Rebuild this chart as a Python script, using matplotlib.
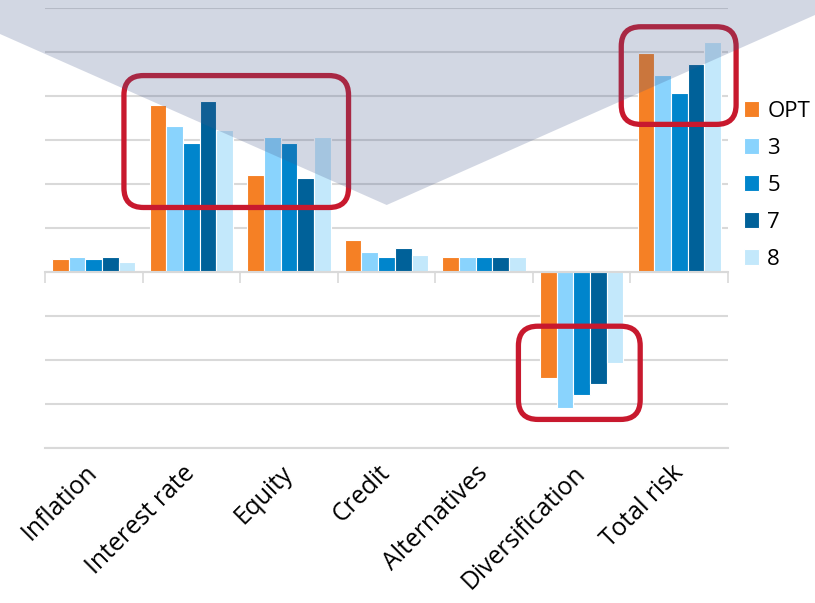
import numpy as np
import matplotlib
matplotlib.use("Agg")
import matplotlib.pyplot as plt
from matplotlib.patches import Polygon, FancyBboxPatch
from matplotlib.transforms import ScaledTranslation

plt.rcParams['font.family'] = ['Open Sans', 'DejaVu Sans']

categories = ["Inflation", "Interest rate", "Equity", "Credit",
              "Alternatives", "Diversification", "Total risk"]
series_names = ["OPT", "3", "5", "7", "8"]
opt_vals = [0.29, 3.80, 2.20, 0.74, 0.34, -2.41, 4.98]
s3_vals = [0.34, 3.33, 3.08, 0.45, 0.34, -3.09, 4.49]
s5_vals = [0.29, 2.93, 2.93, 0.34, 0.34, -2.80, 4.08]
s7_vals = [0.34, 3.89, 2.14, 0.55, 0.34, -2.55, 4.74]
s8_vals = [0.22, 3.24, 3.08, 0.40, 0.34, -2.07, 5.23]
all_vals = [opt_vals, s3_vals, s5_vals, s7_vals, s8_vals]
colors = ["#f58025", "#89d3fd", "#0085cc", "#006199", "#c3e8fb"]

fig = plt.figure(figsize=(8.15, 6.03), dpi=100)
ax = fig.add_axes([45 / 815, 1 - 448 / 603, (728 - 45) / 815, (448 - 8.3) / 603])

x = np.arange(len(categories))
w = 0.171
for i, (vals, c, name) in enumerate(zip(all_vals, colors, series_names)):
    ax.bar(x + (i - 2) * w, vals, width=w, color=c, edgecolor="white",
           linewidth=0.8, label=name, zorder=3)

ax.set_xlim(-0.5, len(categories) - 0.5)
ax.set_ylim(-4, 6)
ax.set_yticks(np.arange(-4, 7, 1))
ax.yaxis.grid(True, color="#d9d9d9", linewidth=1.5, zorder=0)
ax.tick_params(axis="y", length=0, labelleft=False)
for s in ["left", "right", "top"]:
    ax.spines[s].set_visible(False)

# category axis line sits at zero, labels stay at the bottom
ax.spines["bottom"].set_position(("data", 0))
ax.spines["bottom"].set_color("#d9d9d9")
ax.spines["bottom"].set_linewidth(1.5)
ax.spines["bottom"].set_zorder(4)
ax.set_xticks(np.arange(len(categories) + 1) - 0.5)
ax.tick_params(axis="x", direction="out", length=8, width=1.2,
               color="#d9d9d9", labelbottom=False)

sec = ax.secondary_xaxis(0)
sec.set_xticks(x, categories, rotation=45, ha="right", fontsize=17.8)
sec.tick_params(length=0, pad=9)
sec.spines["bottom"].set_visible(False)
shift = ScaledTranslation(0.09, 0, fig.dpi_scale_trans)
for lbl in sec.get_xticklabels():
    lbl.set_transform(lbl.get_transform() + shift)

# bottom gridline at -4 stays visible
ax.axhline(-4, color="#d9d9d9", linewidth=1.5, zorder=0, clip_on=False)

# translucent wedge over the top of the chart
W, H = 815, 603
wedge = [(0, 34), (386.7, 205), (815, 15), (815, 0), (0, 0)]
poly = Polygon([(px / W, 1 - py / H) for px, py in wedge], closed=True,
               transform=fig.transFigure, facecolor=(0.27, 0.35, 0.55),
               alpha=0.24, edgecolor="none", zorder=5)
fig.patches.append(poly)

# red highlight boxes (x in categories, y in data units)
boxes = [(0.309, 1.47, 2.611, 4.47),
         (5.406, 3.36, 6.583, 5.58),
         (4.352, -3.35, 5.60, -1.23)]
for x0, y0, x1, y1 in boxes:
    b = FancyBboxPatch((x0, y0), x1 - x0, y1 - y0,
                       boxstyle="round,pad=0,rounding_size=0.2",
                       mutation_aspect=97.7 / 44,
                       facecolor="none", edgecolor="#c8192e",
                       linewidth=3.8, clip_on=False, zorder=6)
    ax.add_patch(b)

fig.legend(loc="upper left", bbox_to_anchor=(735 / W, 1 - 92 / H),
           frameon=False, fontsize=16, handlelength=0.7, handleheight=0.7,
           handletextpad=0.35, labelspacing=0.72, borderaxespad=0)

fig.savefig("out.png", dpi=100)
